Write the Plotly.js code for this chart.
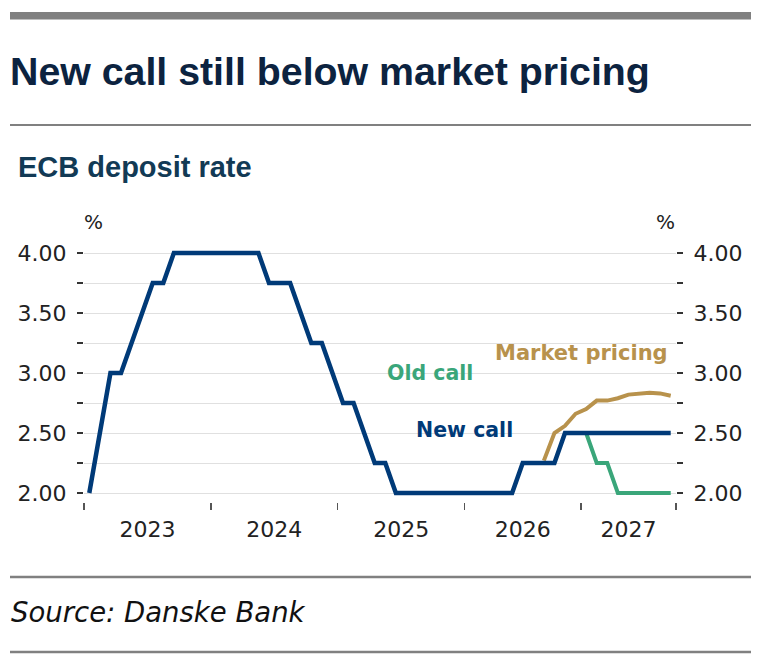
<!DOCTYPE html>
<html>
<head>
<meta charset="utf-8">
<script src="https://cdn.plot.ly/plotly-3.0.1.min.js"></script>
<style>
  html, body { margin: 0; padding: 0; background: #fff; }
  #chart { width: 768px; height: 665px; }
</style>
</head>
<body>
<div id="chart"></div>
<script>
// monthly values, first point = Jan 2023
var newCall = [
    2.00, 2.50, 3.00, 3.00, 3.25, 3.50, 3.75, 3.75,
    4.00, 4.00, 4.00, 4.00, 4.00, 4.00, 4.00, 4.00, 4.00,
    3.75, 3.75, 3.75, 3.50, 3.25, 3.25, 3.00, 2.75, 2.75, 2.50, 2.25, 2.25,
    2.00, 2.00, 2.00, 2.00, 2.00, 2.00, 2.00, 2.00, 2.00, 2.00, 2.00, 2.00,
    2.25, 2.25, 2.25, 2.25,
    2.50, 2.50, 2.50, 2.50, 2.50, 2.50, 2.50, 2.50, 2.50, 2.50, 2.50
];
var oldCallStart = 47;
var oldCall = [2.50, 2.25, 2.25, 2.00, 2.00, 2.00, 2.00, 2.00, 2.00];
var marketStart = 43;
var marketPricing = [2.27, 2.50, 2.56, 2.66, 2.70, 2.77, 2.77, 2.79, 2.82, 2.83, 2.835, 2.83, 2.81];

var yearBounds = [0, 12, 24, 36, 47, 56];
var yearLabels = ["2023", "2024", "2025", "2026", "2027"];

var NAVY = "#003a78",
    GREEN = "#3aa67a",
    GOLD = "#b8924c",
    TICKFONT = "DejaVu Sans";

// pixel -> paper helpers (plot area 84..676 x, 249..502 y)
var L = 84, R = 676, T = 249, B = 502;
function px(x) { return (x - L) / (R - L); }
function py(y) { return (B - y) / (B - T); }

function xs(start, arr) {
    return arr.map(function (d, i) { return start + i + 0.5; });
}

var yearMids = [];
for (var i = 0; i < yearLabels.length; i++) {
    yearMids.push((yearBounds[i] + yearBounds[i + 1]) / 2);
}

var traces = [
    {
        x: xs(marketStart, marketPricing),
        y: marketPricing,
        type: "scatter",
        mode: "lines",
        line: { color: GOLD, width: 4 },
        hoverinfo: "skip",
    },
    {
        x: xs(oldCallStart, oldCall),
        y: oldCall,
        type: "scatter",
        mode: "lines",
        line: { color: GREEN, width: 4 },
        hoverinfo: "skip",
    },
    {
        x: xs(0, newCall),
        y: newCall,
        type: "scatter",
        mode: "lines",
        line: { color: NAVY, width: 4.5 },
        hoverinfo: "skip",
    },
    // dummy trace so the right axis is built
    { x: [0], y: [3], xaxis: "x2", yaxis: "y2", mode: "markers", marker: { opacity: 0 }, hoverinfo: "skip" },
];

var yRange = [1.97, 4.0333];
var yDomain = [(B - 496.6) / (B - T), 1];

function yAxis(extra) {
    var ax = {
        range: yRange,
        domain: yDomain,
        tick0: 2,
        dtick: 0.5,
        tickformat: ".2f",
        ticks: "outside",
        ticklen: 6,
        tickwidth: 1.5,
        tickcolor: "#333",
        showgrid: true,
        gridcolor: "#e0e0e0",
        gridwidth: 1,
        minor: {
            tick0: 2,
            dtick: 0.25,
            ticks: "outside",
            ticklen: 6,
            tickwidth: 1.5,
            tickcolor: "#333",
            showgrid: true,
            gridcolor: "#e0e0e0",
            gridwidth: 1,
        },
        zeroline: false,
        showline: false,
        ticklabelstandoff: 6,
        tickfont: { family: TICKFONT, size: 22, color: "#222" },
        fixedrange: true,
    };
    for (var k in extra) ax[k] = extra[k];
    return ax;
}

var layout = {
    width: 768,
    height: 665,
    paper_bgcolor: "#fff",
    plot_bgcolor: "#fff",
    showlegend: false,
    margin: { l: L, r: 768 - R, t: T, b: 665 - B, pad: 0 },
    title: {
        text: "New call still below market pricing",
        x: 10 / 768,
        xanchor: "left",
        xref: "container",
        y: 1 - 71 / 665,
        yanchor: "middle",
        yref: "container",
        font: { family: "Liberation Sans", size: 39.3, weight: 700, color: "#0c2340" },
    },
    xaxis: {
        range: [0, 56],
        anchor: "free",
        position: 0,
        tickmode: "array",
        tickvals: yearBounds,
        ticktext: yearBounds.map(function () { return ""; }),
        ticks: "outside",
        ticklen: 7,
        tickwidth: 1.5,
        tickcolor: "#555",
        showgrid: false,
        zeroline: false,
        showline: false,
        fixedrange: true,
    },
    xaxis2: {
        range: [0, 56],
        overlaying: "x",
        anchor: "free",
        position: 0,
        tickmode: "array",
        tickvals: yearMids,
        ticktext: yearLabels,
        ticks: "",
        showgrid: false,
        zeroline: false,
        showline: false,
        ticklabelstandoff: 12,
        tickfont: { family: TICKFONT, size: 22, color: "#222" },
        fixedrange: true,
    },
    yaxis: yAxis({}),
    yaxis2: yAxis({ overlaying: "y", side: "right", anchor: "x", showgrid: false,
        minor: { tick0: 2, dtick: 0.25, ticks: "outside", ticklen: 6, tickwidth: 1.5, tickcolor: "#333", showgrid: false } }),
    shapes: [
        { type: "line", xref: "paper", yref: "paper", x0: px(10), x1: px(751), y0: py(15.7), y1: py(15.7), line: { color: "#808080", width: 7.5 } },
        { type: "line", xref: "paper", yref: "paper", x0: px(10), x1: px(751), y0: py(125), y1: py(125), line: { color: "#808080", width: 2 } },
        { type: "line", xref: "paper", yref: "paper", x0: px(10), x1: px(751), y0: py(577), y1: py(577), line: { color: "#808080", width: 2.5 } },
        { type: "line", xref: "paper", yref: "paper", x0: px(10), x1: px(751), y0: py(652), y1: py(652), line: { color: "#808080", width: 2.5 } },
    ],
    annotations: [
        {
            text: "ECB deposit rate", xref: "paper", yref: "paper", x: px(16), y: py(167),
            xanchor: "left", yanchor: "middle", showarrow: false,
            font: { family: "Liberation Sans", size: 29, weight: 700, color: "#123a55" },
        },
        {
            text: "Source: Danske Bank", xref: "paper", yref: "paper", x: px(9), y: py(612),
            xanchor: "left", yanchor: "middle", showarrow: false,
            font: { family: TICKFONT, size: 27.5, style: "italic", color: "#111" },
        },
        {
            text: "%", xref: "paper", yref: "paper", x: px(93), y: py(221.7),
            xanchor: "center", yanchor: "middle", showarrow: false,
            font: { family: TICKFONT, size: 20, color: "#222" },
        },
        {
            text: "%", xref: "paper", yref: "paper", x: px(665.5), y: py(221.7),
            xanchor: "center", yanchor: "middle", showarrow: false,
            font: { family: TICKFONT, size: 20, color: "#222" },
        },
        {
            text: "Market pricing", xref: "x", yref: "y", x: 47.08, y: 3.167,
            xanchor: "center", yanchor: "middle", showarrow: false,
            font: { family: TICKFONT, size: 21, weight: 700, color: GOLD },
        },
        {
            text: "Old call", xref: "x", yref: "y", x: 32.73, y: 2.997,
            xanchor: "center", yanchor: "middle", showarrow: false,
            font: { family: TICKFONT, size: 20.5, weight: 700, color: GREEN },
        },
        {
            text: "New call", xref: "x", yref: "y", x: 35.98, y: 2.525,
            xanchor: "center", yanchor: "middle", showarrow: false,
            font: { family: TICKFONT, size: 20.5, weight: 700, color: NAVY },
        },
    ],
};

Plotly.newPlot("chart", traces, layout, { displayModeBar: false, staticPlot: true });
</script>
</body>
</html>
